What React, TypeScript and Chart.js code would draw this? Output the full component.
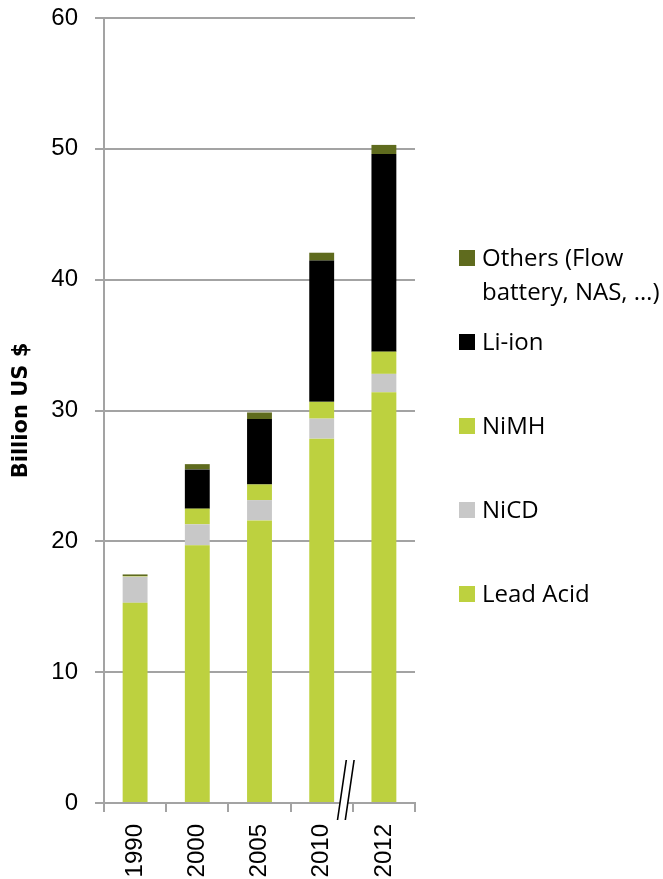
import React, { useEffect, useRef } from "react";
import { Chart, registerables } from "chart.js";

Chart.register(...registerables);

const YEARS = ["1990", "2000", "2005", "2010", "2012"];
const SERIES_NAMES = ["Lead Acid", "NiCD", "NiMH", "Li-ion", "Others (Flow battery, NAS, …)"];
const LEAD_ACID = [15.3, 19.7, 21.6, 27.85, 31.4];
const NICD = [2.0, 1.6, 1.55, 1.53, 1.4];
const NIMH = [0.05, 1.2, 1.2, 1.28, 1.7];
const LI_ION = [0, 3.0, 5.0, 10.8, 15.1];
const OTHERS = [0.12, 0.4, 0.5, 0.6, 0.7];
const SERIES_VALUES = [LEAD_ACID, NICD, NIMH, LI_ION, OTHERS];
const SERIES_COLORS = ["#BDD13F", "#C8C8C8", "#BDD13F", "#000000", "#5F6B1E"];
const Y_MIN = 0;
const Y_MAX = 60;
const Y_STEP = 10;
const Y_TITLE = "Billion US $";

const GRID = "#A3A3A3";

function wrapText(ctx: CanvasRenderingContext2D, text: string, maxW: number): string[] {
  const words = text.split(" ");
  const lines: string[] = [];
  let cur = "";
  for (const w of words) {
    const test = cur ? cur + " " + w : w;
    if (cur && ctx.measureText(test).width > maxW) {
      lines.push(cur);
      cur = w;
    } else {
      cur = test;
    }
  }
  if (cur) lines.push(cur);
  return lines;
}

const sideLegend = {
  id: "sideLegend",
  afterDraw(chart: any) {
    const ctx: CanvasRenderingContext2D = chart.ctx;
    const ds = chart.data.datasets;
    const x0 = chart.chartArea.right + 44;
    let baseline = 266;
    ctx.save();
    ctx.font = "24px 'Open Sans'";
    ctx.textBaseline = "alphabetic";
    ctx.textAlign = "left";
    for (let i = ds.length - 1; i >= 0; i--) {
      const d = ds[i];
      ctx.fillStyle = d.backgroundColor;
      ctx.fillRect(x0, baseline - 16, 16, 16);
      ctx.fillStyle = "#000";
      const lines = wrapText(ctx, d.label, 180);
      lines.forEach((ln, j) => ctx.fillText(ln, x0 + 23, baseline + j * 34));
      baseline += 84;
    }
    ctx.restore();
  },
};

const axisBreak = {
  id: "axisBreak",
  afterDraw(chart: any) {
    const xs = chart.scales.x;
    const p3 = xs.getPixelForValue(3);
    const p4 = xs.getPixelForValue(4);
    const cw = p4 - p3;
    const cx = (p3 + p4) / 2 - cw * 0.1125;
    const yb = chart.chartArea.bottom;
    const top = yb - 43;
    const bot = yb + 17;
    const slant = 4.4;
    const gap = 3.9;
    const ctx: CanvasRenderingContext2D = chart.ctx;
    ctx.save();
    ctx.fillStyle = "#fff";
    ctx.beginPath();
    ctx.moveTo(cx - gap + slant, top);
    ctx.lineTo(cx + gap + slant, top);
    ctx.lineTo(cx + gap - slant, bot);
    ctx.lineTo(cx - gap - slant, bot);
    ctx.closePath();
    ctx.fill();
    ctx.strokeStyle = "#000";
    ctx.lineWidth = 1.6;
    ctx.beginPath();
    ctx.moveTo(cx - gap + slant, top);
    ctx.lineTo(cx - gap - slant, bot);
    ctx.moveTo(cx + gap + slant, top);
    ctx.lineTo(cx + gap - slant, bot);
    ctx.stroke();
    ctx.restore();
  },
};

export default function App() {
  const ref = useRef<HTMLCanvasElement | null>(null);

  useEffect(() => {
    if (!ref.current) return;
    const chart = new Chart(ref.current, {
      type: "bar",
      data: {
        labels: YEARS,
        datasets: SERIES_NAMES.map((name, i) => ({
          label: name,
          data: SERIES_VALUES[i],
          backgroundColor: SERIES_COLORS[i],
          borderWidth: 0,
          barPercentage: 0.4,
          categoryPercentage: 1,
        })),
      },
      options: {
        responsive: false,
        animation: false,
        devicePixelRatio: 1,
        layout: { padding: { top: 18, right: 248, bottom: 0, left: 0 } },
        plugins: {
          legend: { display: false },
          tooltip: { enabled: false },
          title: { display: false },
        },
        scales: {
          x: {
            stacked: true,
            grid: {
              display: true,
              offset: true,
              drawOnChartArea: false,
              drawTicks: true,
              tickLength: 9,
              color: GRID,
              lineWidth: 2,
            },
            border: { display: true, color: GRID, width: 2 },
            ticks: {
              autoSkip: false,
              minRotation: 90,
              maxRotation: 90,
              padding: 12,
              color: "#000",
              font: { family: "'Liberation Sans', Arial, sans-serif", size: 24 },
            },
            afterFit(scale: any) {
              scale.height = 76;
              scale.paddingLeft = 0;
              scale.paddingRight = 0;
            },
          },
          y: {
            stacked: true,
            min: Y_MIN,
            max: Y_MAX,
            ticks: {
              stepSize: Y_STEP,
              padding: 17,
              color: "#000",
              font: { family: "'Liberation Sans', Arial, sans-serif", size: 24 },
            },
            grid: {
              color: GRID,
              lineWidth: 2,
              drawTicks: true,
              tickLength: 9,
            },
            border: { display: true, color: GRID, width: 2 },
            title: {
              display: true,
              text: Y_TITLE,
              color: "#000",
              padding: { top: 9, bottom: 0 },
              font: { family: "'DejaVu Sans', sans-serif", size: 21, weight: "bold" },
            },
            afterFit(scale: any) {
              scale.width = 104;
              scale.paddingTop = 0;
              scale.paddingBottom = 0;
            },
          },
        },
      },
      plugins: [sideLegend, axisBreak],
    } as any);
    return () => chart.destroy();
  }, []);

  return (
    <div style={{ position: "absolute", left: 0, top: 0, width: 663, height: 879, background: "#fff" }}>
      <canvas ref={ref} width={663} height={879} style={{ display: "block" }} />
    </div>
  );
}
